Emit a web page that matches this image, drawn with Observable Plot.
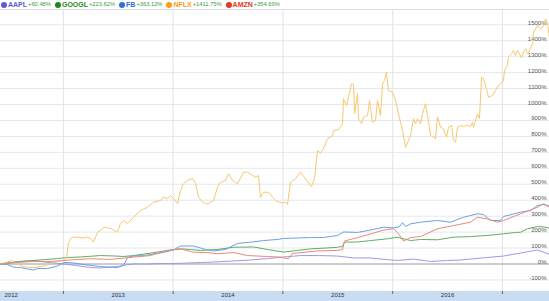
<!DOCTYPE html>
<html><head><meta charset="utf-8">
<script src="https://cdn.jsdelivr.net/npm/d3@7"></script>
<script src="https://cdn.jsdelivr.net/npm/@observablehq/plot@0.6"></script>
<style>
body{margin:0;background:#fff;font-family:"Liberation Sans",Arial,sans-serif;}
#legend{height:9px;border-bottom:1px solid #dcdde3;display:flex;align-items:center;white-space:nowrap;overflow:hidden;}
.item{display:flex;align-items:center;margin-right:3px;}
.dot{width:6px;height:6px;border-radius:50%;margin:0 1px 0 1px;}
.tk{font-size:7px;font-weight:bold;margin-right:1px;line-height:9px;}
.pc{font-size:5.75px;color:#3c9a3c;line-height:9px;}
#chart svg{display:block}
</style></head><body>
<div id="legend"></div><div id="chart"></div>
<script>
const tickers = ["AAPL","GOOGL","FB","NFLX","AMZN"];
const changes = ["+60.48%","+223.62%","+363.12%","+1411.75%","+354.69%"];
const keyColors = ["#5b5bd6","#1a8a1a","#2f6fdc","#ff9a1a","#e23b1e"];
const lineColors = ["#a197e6","#62ad62","#6aa0e6","#f7c86e","#e98a78"];

// [decimal year, % change]
const AAPL = [[2012.427,0],[2012.518,9],[2012.609,16],[2012.728,22],[2012.791,16],[2012.883,9],[2013.001,0],[2013.110,-9],[2013.247,-22],[2013.338,-25],[2013.429,-19],[2013.493,-16],[2013.566,-6],[2013.639,0],[2013.748,0],[2013.885,3],[2014.003,3],[2014.131,6],[2014.249,9],[2014.386,13],[2014.550,19],[2014.705,25],[2014.860,34],[2015.006,44],[2015.160,53],[2015.325,53],[2015.498,50],[2015.643,38],[2015.798,38],[2015.935,28],[2016.044,22],[2016.190,31],[2016.345,16],[2016.500,22],[2016.618,25],[2016.709,31],[2016.864,41],[2017.010,50],[2017.165,69],[2017.320,88],[2017.429,60.48]];
const GOOGL = [[2012.427,0],[2012.518,9],[2012.609,16],[2012.728,22],[2012.837,28],[2012.946,34],[2013.037,41],[2013.156,44],[2013.338,53],[2013.475,50],[2013.548,47],[2013.639,53],[2013.794,68],[2013.949,85],[2014.067,95],[2014.158,91],[2014.249,85],[2014.404,91],[2014.550,105],[2014.732,107],[2014.860,91],[2015.006,75],[2015.133,85],[2015.252,95],[2015.388,100],[2015.498,105],[2015.543,110],[2015.561,137],[2015.680,138],[2015.798,147],[2015.953,158],[2016.044,168],[2016.163,147],[2016.254,154],[2016.409,152],[2016.554,168],[2016.709,172],[2016.864,179],[2017.010,189],[2017.119,198],[2017.165,199],[2017.229,221],[2017.320,235],[2017.384,232],[2017.429,223.62]];
const FB = [[2012.427,0],[2012.491,-3],[2012.545,-20],[2012.609,-22],[2012.673,-31],[2012.728,-38],[2012.764,-28],[2012.855,-28],[2012.946,-13],[2013.001,9],[2013.065,9],[2013.183,-3],[2013.338,-16],[2013.493,-22],[2013.548,-9],[2013.584,41],[2013.639,50],[2013.730,53],[2013.821,63],[2013.912,72],[2014.003,88],[2014.067,113],[2014.186,113],[2014.295,91],[2014.368,82],[2014.477,91],[2014.587,129],[2014.705,137],[2014.823,147],[2014.951,154],[2015.006,160],[2015.133,163],[2015.252,166],[2015.370,166],[2015.498,179],[2015.552,201],[2015.680,198],[2015.798,213],[2015.917,231],[2016.008,226],[2016.063,235],[2016.090,260],[2016.117,235],[2016.163,252],[2016.254,262],[2016.409,273],[2016.527,262],[2016.646,293],[2016.773,315],[2016.828,310],[2016.892,273],[2016.983,273],[2017.010,298],[2017.165,325],[2017.256,335],[2017.320,367],[2017.375,373],[2017.429,363.12]];
const NFLX = [[2012.427,0],[2012.473,9],[2012.527,22],[2012.564,9],[2012.609,-9],[2012.673,-22],[2012.746,-22],[2012.819,-13],[2012.883,3],[2012.946,19],[2013.001,22],[2013.028,34],[2013.047,135],[2013.074,166],[2013.129,169],[2013.183,163],[2013.220,169],[2013.247,160],[2013.274,137],[2013.311,199],[2013.338,210],[2013.366,231],[2013.429,223],[2013.493,199],[2013.520,254],[2013.548,273],[2013.584,254],[2013.639,293],[2013.703,335],[2013.766,356],[2013.821,388],[2013.885,398],[2013.912,419],[2013.949,411],[2013.976,430],[2014.003,411],[2014.040,379],[2014.067,461],[2014.094,503],[2014.131,524],[2014.176,536],[2014.204,505],[2014.231,419],[2014.268,388],[2014.295,378],[2014.322,378],[2014.368,398],[2014.404,482],[2014.432,513],[2014.477,524],[2014.505,566],[2014.541,524],[2014.587,503],[2014.641,576],[2014.678,576],[2014.723,555],[2014.751,544],[2014.778,555],[2014.796,419],[2014.823,450],[2014.869,450],[2014.905,419],[2014.933,398],[2014.978,384],[2015.024,386],[2015.042,373],[2015.069,513],[2015.115,534],[2015.160,576],[2015.206,534],[2015.261,486],[2015.288,536],[2015.315,711],[2015.343,695],[2015.370,722],[2015.406,785],[2015.452,806],[2015.461,837],[2015.507,842],[2015.543,879],[2015.552,1036],[2015.580,994],[2015.598,1046],[2015.625,1130],[2015.643,1126],[2015.653,944],[2015.680,1067],[2015.689,911],[2015.716,879],[2015.734,921],[2015.771,931],[2015.789,1025],[2015.816,889],[2015.844,900],[2015.862,1025],[2015.889,931],[2015.908,1130],[2015.926,1151],[2015.944,1203],[2015.962,1088],[2015.999,1077],[2016.026,1025],[2016.053,942],[2016.090,837],[2016.117,732],[2016.145,774],[2016.163,806],[2016.190,911],[2016.208,879],[2016.226,911],[2016.254,879],[2016.272,942],[2016.299,1005],[2016.318,931],[2016.345,806],[2016.372,795],[2016.390,785],[2016.409,921],[2016.436,858],[2016.463,848],[2016.491,795],[2016.509,858],[2016.536,869],[2016.554,774],[2016.573,764],[2016.591,858],[2016.618,869],[2016.646,862],[2016.682,869],[2016.709,862],[2016.728,889],[2016.737,858],[2016.773,942],[2016.791,911],[2016.810,1171],[2016.828,1163],[2016.855,1099],[2016.873,1046],[2016.910,1057],[2016.937,1088],[2016.964,1119],[2017.001,1140],[2017.010,1151],[2017.019,1213],[2017.046,1245],[2017.055,1297],[2017.083,1318],[2017.101,1339],[2017.119,1308],[2017.138,1339],[2017.156,1318],[2017.174,1293],[2017.192,1328],[2017.211,1350],[2017.229,1320],[2017.238,1327],[2017.274,1381],[2017.284,1454],[2017.320,1496],[2017.347,1475],[2017.366,1483],[2017.393,1538],[2017.411,1514],[2017.429,1411.75]];
const AMZN = [[2012.427,0],[2012.564,9],[2012.728,16],[2012.883,16],[2013.001,22],[2013.110,28],[2013.247,33],[2013.429,29],[2013.639,43],[2013.794,53],[2013.949,85],[2014.067,95],[2014.186,74],[2014.313,72],[2014.404,64],[2014.550,72],[2014.678,53],[2014.860,47],[2014.978,43],[2015.051,33],[2015.088,66],[2015.315,82],[2015.498,85],[2015.543,91],[2015.561,144],[2015.680,166],[2015.798,188],[2015.917,213],[2016.008,221],[2016.044,198],[2016.099,144],[2016.163,166],[2016.254,172],[2016.409,221],[2016.554,241],[2016.709,262],[2016.773,293],[2016.864,283],[2016.955,262],[2017.010,273],[2017.165,315],[2017.320,356],[2017.375,378],[2017.429,354.69]];

const yearTicks = [2013, 2014, 2015, 2016, 2017];
const yearLabels = [2012, 2013, 2014, 2015, 2016];
const yTicks = [-100,0,100,200,300,400,500,600,700,800,900,1000,1100,1200,1300,1400,1500];
const yRange = [-172.4, 1589.7];

// legend
const legend = document.getElementById("legend");
tickers.forEach((t, i) => {
  const it = document.createElement("div"); it.className = "item";
  const d = document.createElement("div"); d.className = "dot"; d.style.background = keyColors[i];
  const s = document.createElement("span"); s.className = "tk"; s.style.color = keyColors[i]; s.textContent = t;
  const p = document.createElement("span"); p.className = "pc"; p.textContent = changes[i];
  it.append(d, s, p); legend.append(it);
});

const seriesList = [AAPL, GOOGL, FB, NFLX, AMZN];
const xDomain = [AAPL[0][0], AAPL[AAPL.length - 1][0]];

const marks = [
  Plot.ruleY(yTicks.filter(d => d !== 0), {stroke: "#e5e7ee", strokeWidth: 1}),
  Plot.ruleX(yearTicks, {stroke: "#e1e3ea", strokeWidth: 1}),
  Plot.ruleY([0], {stroke: "#9a9a9a", strokeWidth: 1}),
  Plot.axisX({ticks: yearTicks, tickSize: 3, tickFormat: () => "", stroke: "#666"}),
  Plot.text(yearLabels.slice(0, 1), {
    x: () => xDomain[0], text: d => String(d), textAnchor: "start",
    frameAnchor: "bottom", dy: 5, dx: 4, fontSize: 6, fill: "#333"
  }),
  Plot.text(yearLabels.slice(1), {
    x: d => d + 0.5, text: d => String(d), textAnchor: "middle",
    frameAnchor: "bottom", dy: 5, fontSize: 6, fill: "#333"
  }),
  Plot.text(yTicks, {
    y: d => d, text: d => `${d}%`, frameAnchor: "right", textAnchor: "end",
    lineAnchor: "bottom", dx: -3, dy: 0, fontSize: 6, fill: "#555"
  })
];
seriesList.forEach((s, i) => {
  marks.push(Plot.line(s, {x: d => d[0], y: d => d[1], stroke: lineColors[i], strokeWidth: 1}));
});

const chart = Plot.plot({
  width: 549, height: 291,
  marginTop: 0, marginBottom: 10, marginLeft: 0, marginRight: 0,
  x: {domain: xDomain, axis: null},
  y: {domain: yRange, axis: null},
  style: {background: "linear-gradient(to bottom, #ffffff 281px, #c8dcf4 281px)", fontFamily: "Liberation Sans, Arial, sans-serif", overflow: "visible"},
  marks
});
document.getElementById("chart").append(chart);
</script>
</body></html>
